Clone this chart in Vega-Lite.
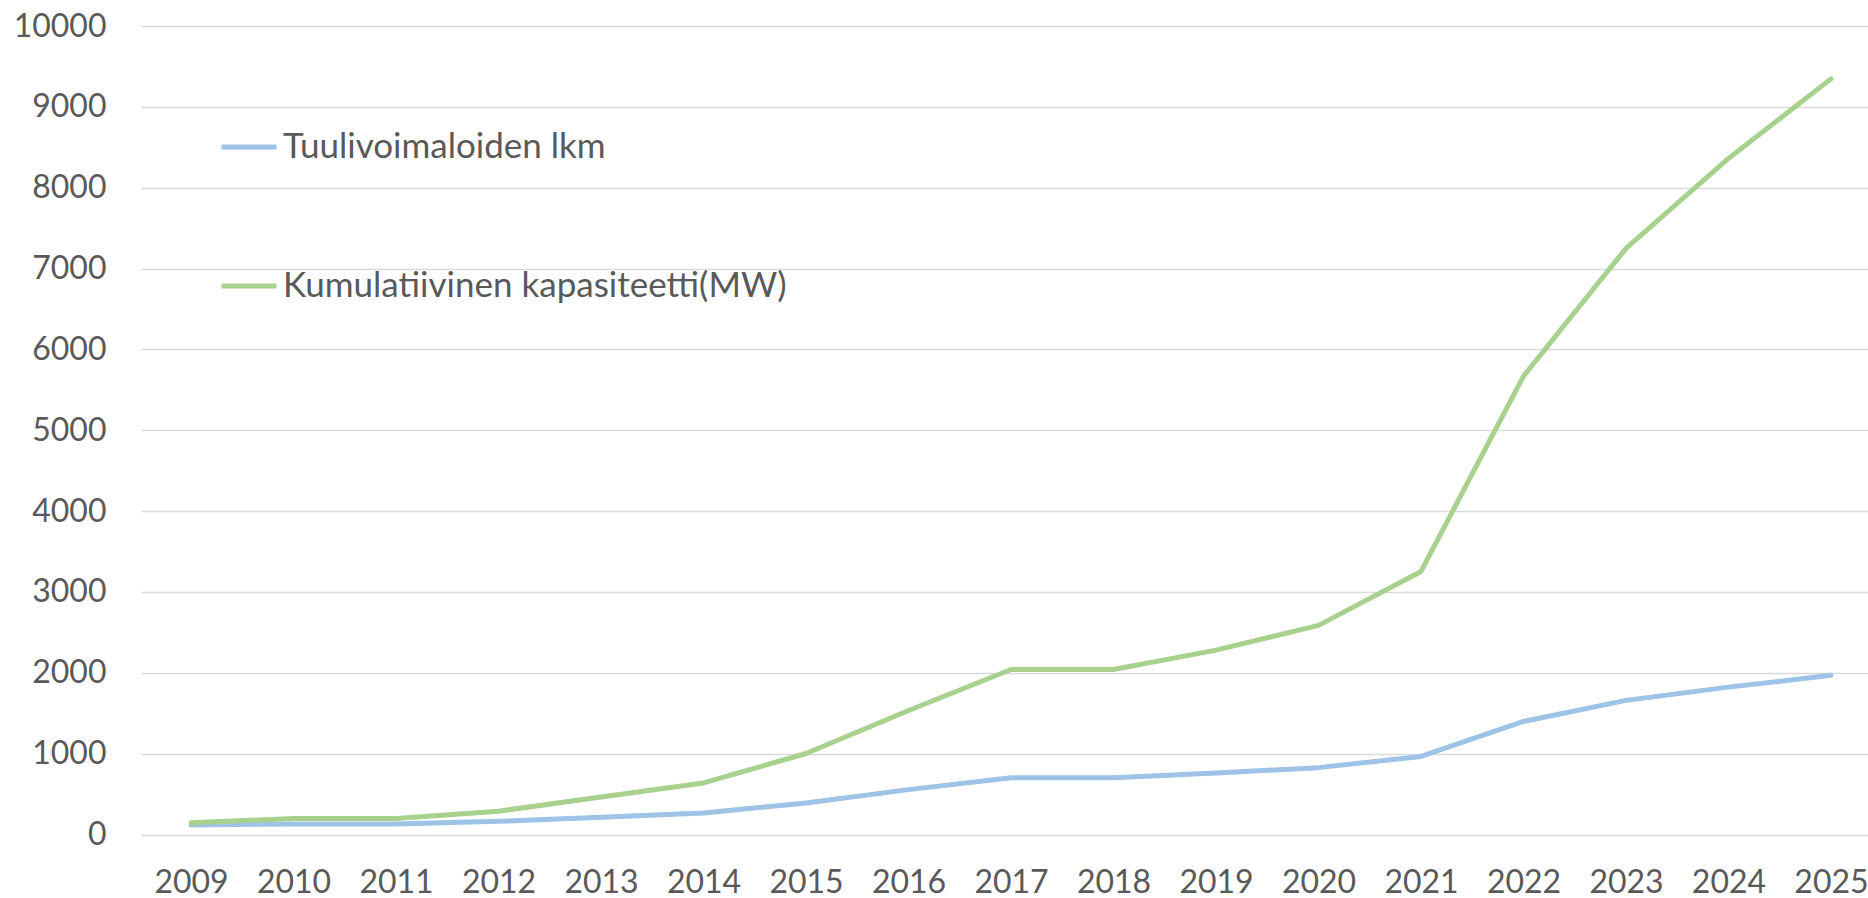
{
  "$schema": "https://vega.github.io/schema/vega-lite/v6.json",
  "autosize": {"type": "none"},
  "padding": {"left": 141, "top": 26, "right": 0, "bottom": 64},
  "width": 1727,
  "height": 808.5,
  "background": "#ffffff",
  "config": {
    "view": {"stroke": null},
    "font": "Lato",
    "axis": {
      "labelFont": "Lato",
      "labelFontSize": 32,
      "labelColor": "#595959",
      "ticks": false,
      "domain": false,
      "title": null
    },
    "legend": {
      "labelFont": "Lato",
      "labelFontSize": 35,
      "labelColor": "#595959"
    }
  },
  "data": {
    "values": [
      {"year": 2009, "series": "Tuulivoimaloiden lkm", "value": 118},
      {"year": 2010, "series": "Tuulivoimaloiden lkm", "value": 130},
      {"year": 2011, "series": "Tuulivoimaloiden lkm", "value": 131},
      {"year": 2012, "series": "Tuulivoimaloiden lkm", "value": 163},
      {"year": 2013, "series": "Tuulivoimaloiden lkm", "value": 212},
      {"year": 2014, "series": "Tuulivoimaloiden lkm", "value": 265},
      {"year": 2015, "series": "Tuulivoimaloiden lkm", "value": 390},
      {"year": 2016, "series": "Tuulivoimaloiden lkm", "value": 555},
      {"year": 2017, "series": "Tuulivoimaloiden lkm", "value": 703},
      {"year": 2018, "series": "Tuulivoimaloiden lkm", "value": 701},
      {"year": 2019, "series": "Tuulivoimaloiden lkm", "value": 760},
      {"year": 2020, "series": "Tuulivoimaloiden lkm", "value": 827},
      {"year": 2021, "series": "Tuulivoimaloiden lkm", "value": 965},
      {"year": 2022, "series": "Tuulivoimaloiden lkm", "value": 1398},
      {"year": 2023, "series": "Tuulivoimaloiden lkm", "value": 1659},
      {"year": 2024, "series": "Tuulivoimaloiden lkm", "value": 1823},
      {"year": 2025, "series": "Tuulivoimaloiden lkm", "value": 1969},
      {"year": 2009, "series": "Kumulatiivinen kapasiteetti(MW)", "value": 145},
      {"year": 2010, "series": "Kumulatiivinen kapasiteetti(MW)", "value": 197},
      {"year": 2011, "series": "Kumulatiivinen kapasiteetti(MW)", "value": 199},
      {"year": 2012, "series": "Kumulatiivinen kapasiteetti(MW)", "value": 288},
      {"year": 2013, "series": "Kumulatiivinen kapasiteetti(MW)", "value": 465},
      {"year": 2014, "series": "Kumulatiivinen kapasiteetti(MW)", "value": 638},
      {"year": 2015, "series": "Kumulatiivinen kapasiteetti(MW)", "value": 1002},
      {"year": 2016, "series": "Kumulatiivinen kapasiteetti(MW)", "value": 1533},
      {"year": 2017, "series": "Kumulatiivinen kapasiteetti(MW)", "value": 2041},
      {"year": 2018, "series": "Kumulatiivinen kapasiteetti(MW)", "value": 2040},
      {"year": 2019, "series": "Kumulatiivinen kapasiteetti(MW)", "value": 2280},
      {"year": 2020, "series": "Kumulatiivinen kapasiteetti(MW)", "value": 2587},
      {"year": 2021, "series": "Kumulatiivinen kapasiteetti(MW)", "value": 3254},
      {"year": 2022, "series": "Kumulatiivinen kapasiteetti(MW)", "value": 5670},
      {"year": 2023, "series": "Kumulatiivinen kapasiteetti(MW)", "value": 7250},
      {"year": 2024, "series": "Kumulatiivinen kapasiteetti(MW)", "value": 8362},
      {"year": 2025, "series": "Kumulatiivinen kapasiteetti(MW)", "value": 9346}
    ]
  },
  "encoding": {
    "x": {
      "field": "year",
      "type": "quantitative",
      "scale": {"domain": [2008.512, 2025.361], "nice": false, "zero": false},
      "axis": {
        "values": [2009, 2010, 2011, 2012, 2013, 2014, 2015, 2016, 2017, 2018, 2019, 2020, 2021, 2022, 2023, 2024, 2025],
        "format": "d",
        "grid": false,
        "labelPadding": 33,
        "labelFlush": false,
        "labelOverlap": false
      }
    },
    "y": {
      "field": "value",
      "type": "quantitative",
      "scale": {"domain": [0, 10000], "nice": false},
      "axis": {
        "values": [0, 1000, 2000, 3000, 4000, 5000, 6000, 7000, 8000, 9000, 10000],
        "format": "d",
        "grid": true,
        "gridColor": "#D9D9D9",
        "gridWidth": 1.5,
        "labelPadding": 35,
        "labelFlush": false,
        "labelOverlap": false
      }
    },
    "color": {
      "field": "series",
      "type": "nominal",
      "scale": {
        "domain": ["Tuulivoimaloiden lkm", "Kumulatiivinen kapasiteetti(MW)"],
        "range": ["#9DC3E6", "#A9D18E"]
      },
      "legend": {
        "title": null,
        "orient": "none",
        "legendX": 78,
        "legendY": 91,
        "padding": 0,
        "symbolType": "stroke",
        "symbolSize": 3025,
        "symbolStrokeWidth": 5,
        "labelOffset": 4,
        "rowPadding": 91,
        "direction": "vertical",
        "labelLimit": 1000
      }
    }
  },
  "layer": [
    {
      "transform": [{"filter": "datum.series === 'Tuulivoimaloiden lkm'"}],
      "mark": {"type": "line", "strokeWidth": 5, "strokeCap": "round", "strokeJoin": "round"}
    },
    {
      "transform": [{"filter": "datum.series === 'Kumulatiivinen kapasiteetti(MW)'"}],
      "mark": {"type": "line", "strokeWidth": 5, "strokeCap": "round", "strokeJoin": "round"}
    }
  ]
}
